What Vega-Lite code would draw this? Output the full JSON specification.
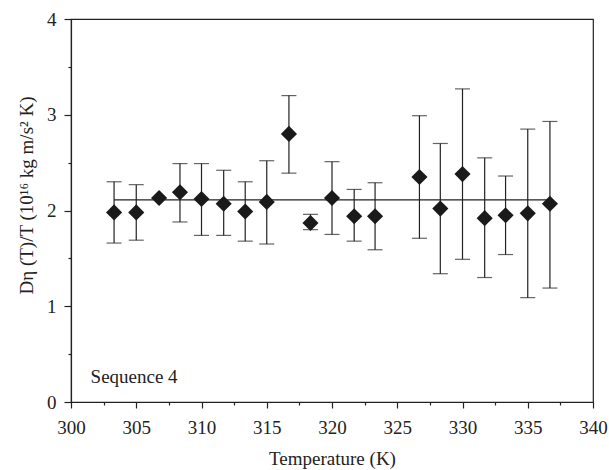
{
  "$schema": "https://vega.github.io/schema/vega-lite/v6.json",
  "width": 522,
  "height": 383,
  "autosize": {"type": "none"},
  "padding": {"left": 71, "top": 19, "right": 16, "bottom": 68},
  "background": "white",
  "config": {
    "view": {"stroke": "#222", "strokeWidth": 1.2},
    "font": "Liberation Serif",
    "axis": {"domainColor": "#222", "tickColor": "#222", "labelColor": "#222", "titleColor": "#222", "labelFont": "Liberation Serif", "titleFont": "Liberation Serif", "labelFontSize": 19, "titleFontSize": 19, "titleFontWeight": "normal", "grid": false, "domainWidth": 1.2, "tickWidth": 1.2}
  },
  "datasets": {
    "pts": [
      {"T": 303.3, "D": 1.98, "lo": 1.66, "hi": 2.30},
      {"T": 305.0, "D": 1.98, "lo": 1.69, "hi": 2.27},
      {"T": 306.75, "D": 2.13, "lo": null, "hi": null},
      {"T": 308.35, "D": 2.19, "lo": 1.88, "hi": 2.49},
      {"T": 310.0, "D": 2.12, "lo": 1.74, "hi": 2.49},
      {"T": 311.7, "D": 2.07, "lo": 1.74, "hi": 2.42},
      {"T": 313.35, "D": 1.99, "lo": 1.68, "hi": 2.30},
      {"T": 315.0, "D": 2.09, "lo": 1.65, "hi": 2.52},
      {"T": 316.7, "D": 2.80, "lo": 2.39, "hi": 3.20},
      {"T": 318.35, "D": 1.87, "lo": 1.80, "hi": 1.96},
      {"T": 320.0, "D": 2.13, "lo": 1.75, "hi": 2.51},
      {"T": 321.7, "D": 1.94, "lo": 1.68, "hi": 2.22},
      {"T": 323.3, "D": 1.94, "lo": 1.59, "hi": 2.29},
      {"T": 326.7, "D": 2.35, "lo": 1.71, "hi": 2.99},
      {"T": 328.3, "D": 2.02, "lo": 1.34, "hi": 2.70},
      {"T": 330.0, "D": 2.38, "lo": 1.49, "hi": 3.27},
      {"T": 331.7, "D": 1.92, "lo": 1.30, "hi": 2.55},
      {"T": 333.3, "D": 1.95, "lo": 1.54, "hi": 2.36},
      {"T": 335.0, "D": 1.97, "lo": 1.09, "hi": 2.85},
      {"T": 336.7, "D": 2.07, "lo": 1.19, "hi": 2.93}
    ],
    "fit": [{"T1": 303.3, "T2": 336.7, "F": 2.11}],
    "label": [{"T": 301.5, "y": 0.26, "txt": "Sequence 4"}]
  },
  "resolve": {"axis": {"x": "independent", "y": "independent"}},
  "layer": [
    {
      "data": {"name": "fit"},
      "mark": {"type": "rule", "color": "#222", "strokeWidth": 1.2},
      "encoding": {
        "x": {"field": "T1", "type": "quantitative", "scale": {"domain": [300, 340], "nice": false, "zero": false}, "axis": null},
        "x2": {"field": "T2"},
        "y": {"field": "F", "type": "quantitative", "scale": {"domain": [0, 4], "nice": false, "zero": false}, "axis": null}
      }
    },
    {
      "data": {"name": "pts"},
      "mark": {"type": "rule", "color": "#222", "strokeWidth": 1.2},
      "encoding": {
        "x": {"field": "T", "type": "quantitative", "scale": {"domain": [300, 340], "nice": false, "zero": false},
              "axis": {"orient": "bottom", "values": [302.5, 307.5, 312.5, 317.5, 322.5, 327.5, 332.5, 337.5], "labels": false, "domain": false, "tickSize": 3, "title": null}},
        "y": {"field": "lo", "type": "quantitative", "scale": {"domain": [0, 4], "nice": false, "zero": false},
              "axis": {"orient": "left", "values": [0.5, 1.5, 2.5, 3.5], "labels": false, "domain": false, "tickSize": 3, "title": null}},
        "y2": {"field": "hi"}
      }
    },
    {
      "data": {"name": "pts"},
      "mark": {"type": "tick", "orient": "horizontal", "color": "#222", "size": 15, "thickness": 1.2},
      "encoding": {
        "x": {"field": "T", "type": "quantitative", "scale": {"domain": [300, 340], "nice": false, "zero": false}, "axis": null},
        "y": {"field": "lo", "type": "quantitative", "scale": {"domain": [0, 4], "nice": false, "zero": false}, "axis": null}
      }
    },
    {
      "data": {"name": "pts"},
      "mark": {"type": "tick", "orient": "horizontal", "color": "#222", "size": 15, "thickness": 1.2},
      "encoding": {
        "x": {"field": "T", "type": "quantitative", "scale": {"domain": [300, 340], "nice": false, "zero": false}, "axis": null},
        "y": {"field": "hi", "type": "quantitative", "scale": {"domain": [0, 4], "nice": false, "zero": false}, "axis": null}
      }
    },
    {
      "data": {"name": "pts"},
      "mark": {"type": "point", "shape": "diamond", "filled": true, "color": "#1a1a1a", "opacity": 1, "size": 260},
      "encoding": {
        "x": {"field": "T", "type": "quantitative", "scale": {"domain": [300, 340], "nice": false, "zero": false},
              "axis": {"orient": "bottom", "values": [300, 305, 310, 315, 320, 325, 330, 335, 340], "tickSize": 6, "labelPadding": 10, "title": "Temperature (K)", "titlePadding": 12, "labelFlush": false}},
        "y": {"field": "D", "type": "quantitative", "scale": {"domain": [0, 4], "nice": false, "zero": false},
              "axis": {"orient": "left", "values": [0, 1, 2, 3, 4], "tickSize": 7, "labelPadding": 8, "title": "Dη (T)/T (10¹⁶ kg m/s² K)", "titlePadding": 10, "titleY": 176, "labelFlush": false}}
      }
    },
    {
      "data": {"name": "label"},
      "mark": {"type": "text", "align": "left", "baseline": "middle", "fontSize": 19, "font": "Liberation Serif", "color": "#222"},
      "encoding": {
        "x": {"field": "T", "type": "quantitative", "scale": {"domain": [300, 340], "nice": false, "zero": false}, "axis": null},
        "y": {"field": "y", "type": "quantitative", "scale": {"domain": [0, 4], "nice": false, "zero": false}, "axis": null},
        "text": {"field": "txt"}
      }
    }
  ]
}
